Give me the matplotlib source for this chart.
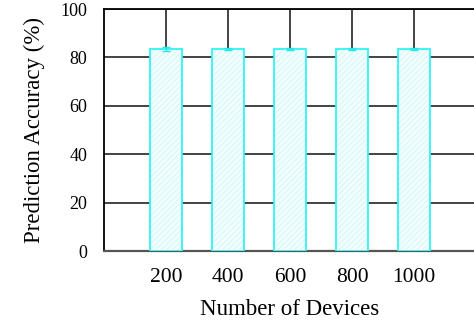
import numpy as np
import matplotlib.pyplot as plt

# data
devices = ["200", "400", "600", "800", "1000"]
accuracy = [83.5, 83.5, 83.5, 83.5, 83.5]
err = [0.8, 0.3, 0.3, 0.3, 0.3]

plt.rcParams['font.family'] = ['Liberation Serif', 'DejaVu Serif']
plt.rcParams['hatch.linewidth'] = 0.8

fig = plt.figure(figsize=(4.74, 3.28), dpi=100)
ax = fig.add_axes([104 / 474, 1 - 251 / 328, 372 / 474, 242 / 328])

x = np.arange(1, len(devices) + 1)
# hatch fill (hatch takes the edge colour, so the outline is drawn separately)
ax.bar(x, accuracy, width=0.52, color='#f4fefe', edgecolor='#d4f8f8',
       linewidth=0, hatch='//////', zorder=3)
ax.bar(x, accuracy, width=0.52, fill=False, edgecolor='#30f4f4',
       linewidth=1.3, zorder=3.5)
ax.errorbar(x, accuracy, yerr=err, fmt='none', ecolor='#22e8e8',
            elinewidth=1, capsize=3, zorder=4)

ax.set_xlim(0, 6)
ax.set_ylim(0, 100)
ax.set_xticks(x)
ax.set_xticklabels(devices, fontsize=15.5)
ax.set_yticks([0, 20, 40, 60, 80, 100])
ax.tick_params(axis='y', labelsize=13, length=0, pad=12)
ax.tick_params(axis='x', length=0, pad=12)
ax.grid(True, color='#111111', linewidth=1.1, zorder=0)
ax.set_axisbelow(True)

ax.spines['right'].set_visible(False)
ax.spines['left'].set_linewidth(1.3)
ax.spines['top'].set_linewidth(1.3)
ax.spines['bottom'].set_color('#555555')
ax.spines['bottom'].set_linewidth(1.6)

ax.set_xlabel("Number of Devices", fontsize=16.5, labelpad=9)
ax.set_ylabel("Prediction Accuracy (%)", fontsize=16.5, labelpad=11)

fig.savefig("out.png", dpi=100)
